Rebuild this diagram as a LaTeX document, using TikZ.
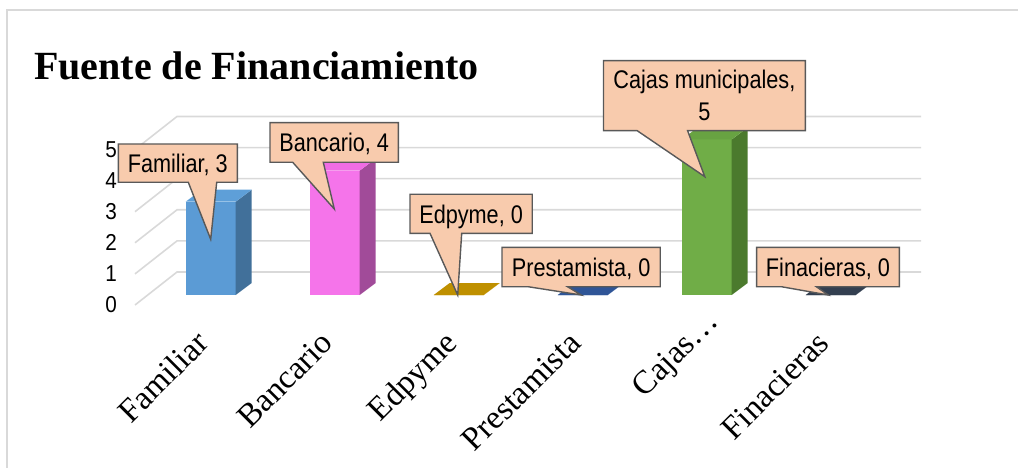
\documentclass[tikz,border=0pt]{standalone}
\usepackage{fontspec}
\usepackage{graphicx}
\setmainfont{Liberation Serif}
\newfontfamily\arialf{Liberation Sans}
\newcommand{\cond}[1]{\scalebox{0.85}[1]{#1}}
\newcommand{\condax}[1]{\scalebox{0.9}[1]{#1}}
\definecolor{gridc}{HTML}{D9D9D9}
\definecolor{framec}{HTML}{D9D9D9}
\definecolor{callfill}{HTML}{F8CBAD}
\definecolor{callline}{HTML}{595959}
\definecolor{famF}{HTML}{5B9BD5}\definecolor{famS}{HTML}{41709A}\definecolor{famT}{HTML}{5E9FD8}
\definecolor{banF}{HTML}{F574EA}\definecolor{banS}{HTML}{A14B99}\definecolor{banT}{HTML}{F06CE4}
\definecolor{edpT}{HTML}{BF9000}
\definecolor{preT}{HTML}{2F5597}
\definecolor{cajF}{HTML}{70AD47}\definecolor{cajS}{HTML}{4B7A2D}\definecolor{cajT}{HTML}{68A342}
\definecolor{finT}{HTML}{333F50}
\tikzset{
  gridline/.style={draw=gridc, line width=1.6pt},
  axislbl/.style={font=\arialf\fontsize{23}{26}\selectfont, inner sep=0pt, anchor=east},
  catlbl/.style={font=\fontsize{33}{36}\selectfont, inner sep=0pt, anchor=base east, rotate=45},
  callout/.style={fill=callfill, draw=callline, line width=1.4pt, line join=miter},
  clabel/.style={font=\arialf\fontsize{25.5}{31.4}\selectfont, inner sep=0pt, anchor=base, align=center},
}
\begin{document}
\begin{tikzpicture}[x=1pt,y=-1pt]
\useasboundingbox (0,0) rectangle (1018,468);
% frame
\draw[framec, line width=1.6pt] (7,468) -- (7,10) -- (1018,10);
% title
\node[anchor=base west, inner sep=0pt, font=\bfseries\fontsize{40}{42}\selectfont] (title) at (34,80) {Fuente de Financiamiento};
% grid
\foreach \v in {0,...,5}{
  \draw[gridline] (135,{305-31.1*\v}) -- (177,{272-31.1*\v}) -- (921,{272-31.1*\v});
  \node[axislbl] (y\v) at (117,{305-31.1*\v}) {\condax{\v}};
}
% bars
\foreach \i/\val/\cf/\cs/\ct in {0/3/famF/famS/famT, 1/4/banF/banS/banT, 2/0/edpT/edpT/edpT, 3/0/preT/preT/preT, 4/5/cajF/cajS/cajT, 5/0/finT/finT/finT}{
  \pgfmathsetmacro{\xa}{185.7+124*\i}
  \pgfmathsetmacro{\h}{31.1*\val}
  \fill[\cf] (\xa,295) rectangle ({\xa+50},{295-\h});
  \fill[\cs] ({\xa+50},295) -- ({\xa+66},283) -- ({\xa+66},{283-\h}) -- ({\xa+50},{295-\h}) -- cycle;
  \fill[\ct] (\xa,{295-\h}) -- ({\xa+16},{283-\h}) -- ({\xa+66},{283-\h}) -- ({\xa+50},{295-\h}) -- cycle;
}
% category labels
\node[catlbl] (cat0) at (210.7,345) {Familiar};
\node[catlbl] (cat1) at (334.7,345) {Bancario};
\node[catlbl] (cat2) at (458.7,345) {Edpyme};
\node[catlbl] (cat3) at (582.7,345) {Prestamista};
\node[catlbl] (cat4) at (720,323) {Cajas…};
\node[catlbl] (cat5) at (830.7,345) {Finacieras};
% callouts
\draw[callout] (118.3,144) -- (237.3,144) -- (237.3,182.3) -- (216.7,182.3) -- (210.7,239.3) -- (188.3,182.3) -- (118.3,182.3) -- cycle;
\node[clabel] (lFam) at (177.8,172.9) {\cond{Familiar, 3}};
\draw[callout] (270,122.7) -- (398.3,122.7) -- (398.3,162.3) -- (323.3,162.3) -- (334.3,209) -- (292.7,162.3) -- (270,162.3) -- cycle;
\node[clabel] (lBan) at (334.2,152) {\cond{Bancario, 4}};
\draw[callout] (410,194.3) -- (532.2,194.3) -- (532.2,233.3) -- (461.7,233.3) -- (457.7,295) -- (430,233.3) -- (410,233.3) -- cycle;
\node[clabel] (lEdp) at (471.1,223.3) {\cond{Edpyme, 0}};
\draw[callout] (502,247.3) -- (660.2,247.3) -- (660.2,286.7) -- (567.5,286.7) -- (581.2,295) -- (528,286.7) -- (502,286.7) -- cycle;
\node[clabel] (lPre) at (581.1,276.5) {\cond{Prestamista, 0}};
\draw[callout] (603.5,60.7) -- (805.3,60.7) -- (805.3,130.7) -- (687.6,130.7) -- (704.8,176.7) -- (637.2,130.7) -- (603.5,130.7) -- cycle;
\node[clabel, anchor=north] (lCaj) at (704.4,70.2) {\cond{Cajas municipales,}\\\cond{5}};
\draw[callout] (756.6,247.3) -- (899.4,247.3) -- (899.4,286.7) -- (816.3,286.7) -- (828.3,295) -- (781.3,286.7) -- (756.6,286.7) -- cycle;
\node[clabel] (lFin) at (828,276.5) {\cond{Finacieras, 0}};
\end{tikzpicture}
\end{document}
